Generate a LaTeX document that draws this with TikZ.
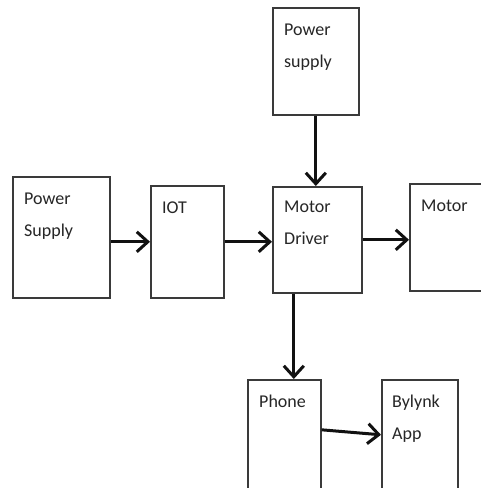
\documentclass[tikz,border=0pt]{standalone}
\usepackage{fontspec}
\setsansfont{Carlito}
\usepackage{xcolor}
\definecolor{boxline}{HTML}{3A3A3A}
\definecolor{arrline}{HTML}{111111}
\definecolor{txtgray}{HTML}{262626}
\usepackage{tikz}
\usetikzlibrary{arrows.meta,positioning,calc}

\begin{document}
\begin{tikzpicture}[
  x=1pt, y=-1pt,
  box/.style={draw=boxline, line width=1.6pt, fill=white, anchor=north west,
              inner sep=0pt},
  lbl/.style={anchor=base west, xshift=12pt, yshift=-28pt, inner sep=0pt,
              align=left, text=txtgray,
              font=\sffamily\fontsize{18}{32}\selectfont},
  lbltwo/.style={lbl, yshift=-32pt},
  arr/.style={-{Straight Barb[length=11pt,width=20pt]}, line width=3pt,
              color=arrline}
]
  \clip (0,0) rectangle (481,488);
  \fill[white] (0,0) rectangle (481,488);

  \node[box, minimum width=97pt, minimum height=121pt,
        label={[lbltwo]north west:Power\\Supply}] (psleft) at (12,176) {};
  \node[box, minimum width=73pt, minimum height=112pt,
        label={[lbl]north west:IOT}] (iot) at (150,185) {};
  \node[box, minimum width=86pt, minimum height=107pt,
        label={[lbltwo]north west:Power\\supply}] (pstop) at (272,7) {};
  \node[box, minimum width=89pt, minimum height=106pt,
        label={[lbltwo, yshift=2pt]north west:Motor\\Driver}] (driver) at (272,186) {};
  \node[box, minimum width=95pt, minimum height=107pt,
        label={[lbl]north west:Motor}] (motor) at (409,183) {};
  \node[box, minimum width=73pt, minimum height=110pt,
        label={[lbl]north west:Phone}] (phone) at (247,379) {};
  \node[box, minimum width=76pt, minimum height=110pt,
        label={[lbltwo, xshift=-1pt]north west:Bylynk\\App}] (app) at (381,379) {};

  \draw[arr] (psleft.east |- iot.west) -- (iot.west);
  \draw[arr] (iot.east) -- (iot.east -| driver.west);
  \draw[arr] (pstop.south) -- (pstop.south |- driver.north);
  \draw[arr] (driver.east) -- (driver.east -| motor.west);
  \draw[arr] ([xshift=-23.5pt]driver.south) -- ([xshift=-23.5pt]driver.south |- phone.north);
  \draw[arr] ([yshift=5pt]phone.east) -- (app.west);
\end{tikzpicture}
\end{document}
